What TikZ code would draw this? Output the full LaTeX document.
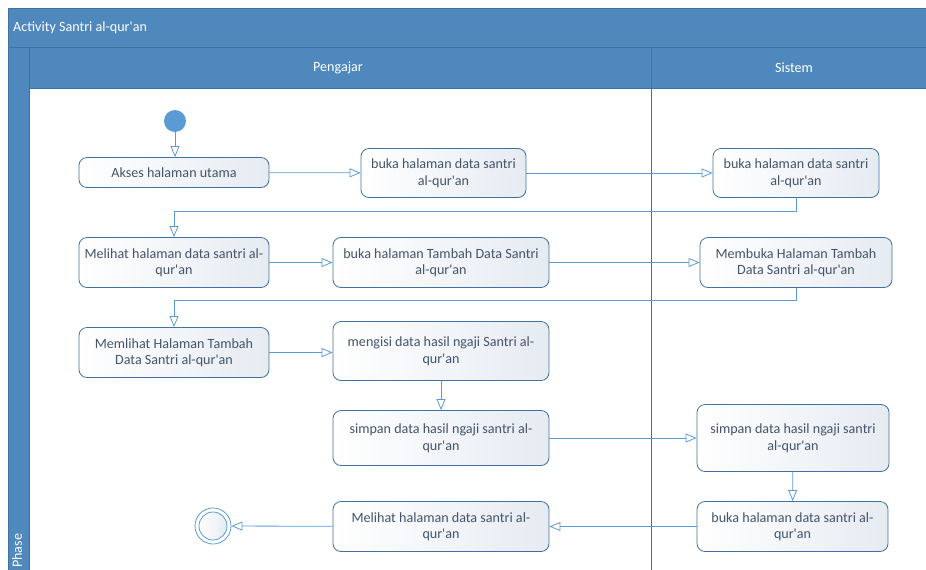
\documentclass[tikz,border=0pt]{standalone}
\usepackage{fontspec}
\setmainfont{Carlito}[Ligatures=TeXOff]
\usetikzlibrary{arrows.meta}
\definecolor{lane}{HTML}{4F88BD}
\definecolor{laneb}{HTML}{41719C}
\definecolor{fleche}{HTML}{5B9BD5}
\definecolor{texte}{HTML}{44546A}
\definecolor{fond}{HTML}{E6EBF2}
\newcommand{\Txt}{\fontsize{14.1}{16.5}\selectfont}

\begin{document}
\begin{tikzpicture}[x=1pt,y=-1pt,
    act/.style={draw=laneb, rounded corners=8pt, left color=white, right color=fond, text=texte, align=center, font=\Txt, inner sep=0pt, line width=0.8pt},
    flux/.style={draw=fleche, line width=0.8pt, -{Triangle[open,length=11pt,width=9pt]}},
    entete/.style={text=white, font=\Txt, inner sep=0pt}]
        \useasboundingbox (0,0) rectangle (926,570);
        % couloirs
        \filldraw[fill=lane, draw=laneb] (8,8) rectangle (935,47);
        \filldraw[fill=lane, draw=laneb] (8,47) rectangle (29,580);
        \filldraw[fill=lane, draw=laneb] (29,47) rectangle (935,88);
        \draw[laneb, line width=0.9pt] (651,47) -- (651,580);
        \node[entete, anchor=west] (Titr) at (13,27.5) {Activity Santri al-qur'an};
        \node[entete] (Peng) at (338,67.5) {Pengajar};
        \node[entete] (Sist) at (794,67.5) {Sistem};
        \node[entete, rotate=90, anchor=west] (Phas) at (17,568) {Phase};
        % activites
        \node[circle, fill=fleche, minimum size=22pt, inner sep=0pt] (Debu) at (175,121) {};
        \node[act, minimum width=190pt, minimum height=30pt] (Akse) at (174,172.5) {Akses halaman utama};
        \node[act, minimum width=165pt, minimum height=49pt] (Buk1) at (443.5,173) {buka halaman data santri\\al-qur'an};
        \node[act, minimum width=166pt, minimum height=49pt] (Buk2) at (796,173) {buka halaman data santri\\al-qur'an};
        \node[act, minimum width=190pt, minimum height=50pt] (Meli) at (174,262.5) {Melihat halaman data santri al-\\qur'an};
        \node[act, minimum width=216pt, minimum height=50pt] (Tamb) at (441,262.5) {buka halaman Tambah Data Santri\\al-qur'an};
        \node[act, minimum width=192pt, minimum height=50pt] (Memb) at (796,262.5) {Membuka Halaman Tambah\\Data Santri al-qur'an};
        \node[act, minimum width=190pt, minimum height=50pt] (Meml) at (174,352.5) {Memlihat Halaman Tambah\\Data Santri al-qur'an};
        \node[act, minimum width=216pt, minimum height=59pt] (Meng) at (441,351) {mengisi data hasil ngaji Santri al-\\qur'an};
        \node[act, minimum width=216pt, minimum height=55pt] (Simp) at (441,438) {simpan data hasil ngaji santri al-\\qur'an};
        \node[act, minimum width=192pt, minimum height=67pt] (Sim2) at (793,438) {simpan data hasil ngaji santri\\al-qur'an};
        \node[act, minimum width=191pt, minimum height=50pt] (Buk3) at (792.5,526.5) {buka halaman data santri al-\\qur'an};
        \node[act, minimum width=216pt, minimum height=50pt] (Mel2) at (441,526.5) {Melihat halaman data santri al-\\qur'an};
        \node[circle, draw=fleche, line width=0.8pt, minimum size=36pt, inner sep=0pt] (Fin) at (213,526) {};
        \node[circle, draw=fleche, line width=0.8pt, left color=white, right color=fond, minimum size=28pt, inner sep=0pt] (Fin2) at (Fin) {};
        % transitions
        \draw[flux] (Debu) -- (Debu |- Akse.north);
        \draw[flux] (Akse) -- (Buk1);
        \draw[flux] (Buk1) -- (Buk2);
        \draw[flux] (Buk2.south) -- ++(0,13) -| (Meli.north);
        \draw[flux] (Meli) -- (Tamb);
        \draw[flux] (Tamb) -- (Memb);
        \draw[flux] (Memb.south) -- ++(0,12) -| (Meml.north);
        \draw[flux] (Meml.east) -- (Meml.east -| Meng.west);
        \draw[flux] (Meng) -- (Simp);
        \draw[flux] (Simp) -- (Sim2);
        \draw[flux] (Sim2) -- (Buk3);
        \draw[flux] (Buk3) -- (Mel2);
        \draw[flux] (Mel2) -- (Fin);
      \end{tikzpicture}
\end{document}
